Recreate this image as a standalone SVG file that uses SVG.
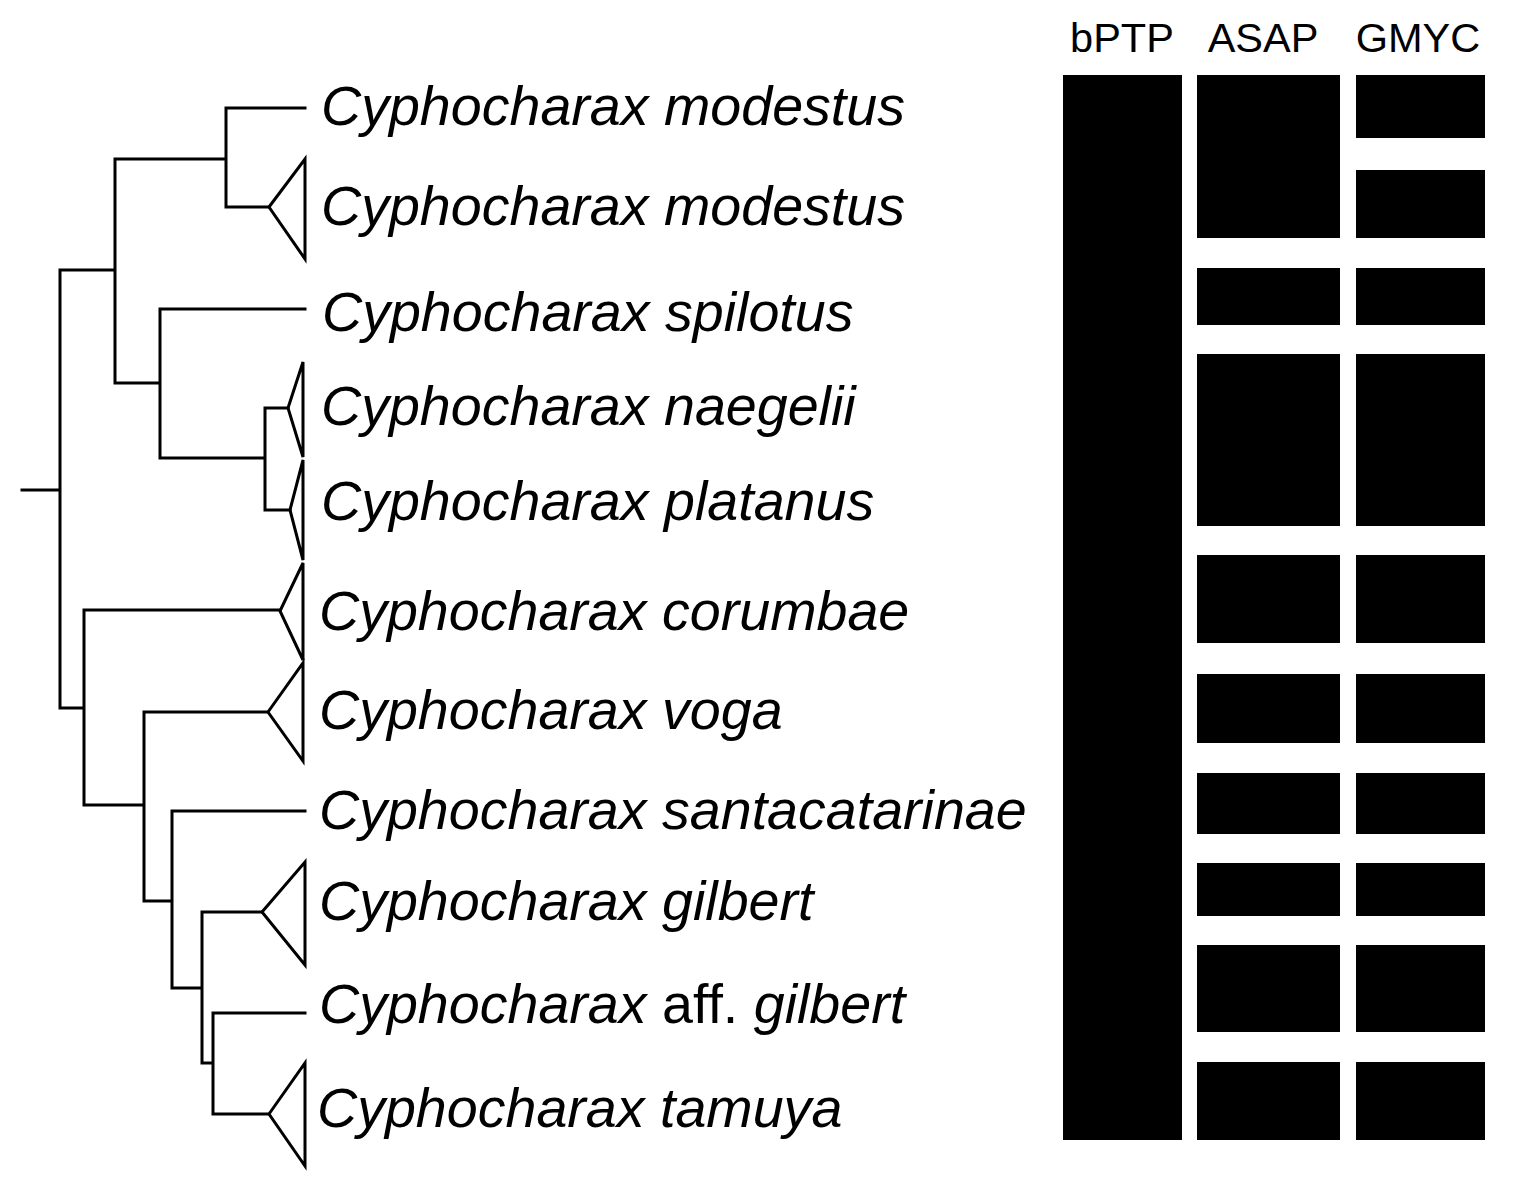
<svg xmlns="http://www.w3.org/2000/svg" width="1521" height="1187" viewBox="0 0 1521 1187">
<style>
.br{fill:none;stroke:#000;stroke-width:3;stroke-linecap:square;stroke-linejoin:miter}
.tri{fill:none;stroke:#000;stroke-width:3;stroke-linejoin:miter}
.lab{font-family:"Liberation Sans",Arial,sans-serif;font-size:55.6px;font-style:italic;fill:#000}
.up{font-style:normal}
.hd{font-family:"Liberation Sans",Arial,sans-serif;font-size:41.5px;fill:#000;text-anchor:middle}
.bar{fill:#000}
</style>
<rect width="1521" height="1187" fill="#fff"/>
<g id="connectors">
<path class="br" d="M22 490H60 M60 270V708 M60 270H115 M115 159V383 M115 159H226 M226 108V207 M226 108H305 M226 207H269
M115 383H160 M160 309V458 M160 309H305 M160 458H265 M265 408V510 M265 408H288 M265 510H290
M60 708H84 M84 610V805 M84 610H280 M84 805H144 M144 712V901 M144 712H268 M144 901H172 M172 811V988 M172 811H305
M172 988H202 M202 912V1063 M202 912H262 M202 1063H213 M213 1013V1114 M213 1013H305 M213 1114H269"/>
</g>
<g id="modestus1"><text class="lab" x="321" y="125">Cyphocharax modestus</text></g>
<g id="modestus2"><polygon class="tri" points="269,207 305,159 305,259"/><text class="lab" x="321" y="225">Cyphocharax modestus</text></g>
<g id="spilotus"><text class="lab" x="322" y="331">Cyphocharax spilotus</text></g>
<g id="naegelii"><polygon class="tri" points="288,408 303,362 303,457"/><text class="lab" x="321" y="425">Cyphocharax naegelii</text></g>
<g id="platanus"><polygon class="tri" points="290,510 303,460 303,560"/><text class="lab" x="321" y="520">Cyphocharax platanus</text></g>
<g id="corumbae"><polygon class="tri" points="280,611 303,563 303,660"/><text class="lab" x="319" y="630">Cyphocharax corumbae</text></g>
<g id="voga"><polygon class="tri" points="268,712 303,663 303,761"/><text class="lab" x="319" y="729">Cyphocharax voga</text></g>
<g id="santacatarinae"><text class="lab" x="319" y="829">Cyphocharax santacatarinae</text></g>
<g id="gilbert"><polygon class="tri" points="262,912 305,862 305,965"/><text class="lab" x="319" y="920">Cyphocharax gilbert</text></g>
<g id="affgilbert"><text class="lab" x="319" y="1023">Cyphocharax <tspan class="up">aff.</tspan> gilbert</text></g>
<g id="tamuya"><polygon class="tri" points="269,1114 305,1063 305,1166"/><text class="lab" x="317" y="1127">Cyphocharax tamuya</text></g>
<g id="bPTP"><text class="hd" x="1122" y="52">bPTP</text><rect class="bar" x="1063" y="75" width="119" height="1065"/></g>
<g id="ASAP"><text class="hd" x="1263" y="52">ASAP</text>
<rect class="bar" x="1197" y="75" width="143" height="163"/>
<rect class="bar" x="1197" y="268" width="143" height="57"/>
<rect class="bar" x="1197" y="354" width="143" height="172"/>
<rect class="bar" x="1197" y="555" width="143" height="88"/>
<rect class="bar" x="1197" y="674" width="143" height="69"/>
<rect class="bar" x="1197" y="773" width="143" height="61"/>
<rect class="bar" x="1197" y="863" width="143" height="53"/>
<rect class="bar" x="1197" y="945" width="143" height="87"/>
<rect class="bar" x="1197" y="1062" width="143" height="78"/>
</g>
<g id="GMYC"><text class="hd" x="1418" y="52">GMYC</text>
<rect class="bar" x="1356" y="75" width="129" height="63"/>
<rect class="bar" x="1356" y="170" width="129" height="68"/>
<rect class="bar" x="1356" y="268" width="129" height="57"/>
<rect class="bar" x="1356" y="354" width="129" height="172"/>
<rect class="bar" x="1356" y="555" width="129" height="88"/>
<rect class="bar" x="1356" y="674" width="129" height="69"/>
<rect class="bar" x="1356" y="773" width="129" height="61"/>
<rect class="bar" x="1356" y="863" width="129" height="53"/>
<rect class="bar" x="1356" y="945" width="129" height="87"/>
<rect class="bar" x="1356" y="1062" width="129" height="78"/>
</g>
</svg>
